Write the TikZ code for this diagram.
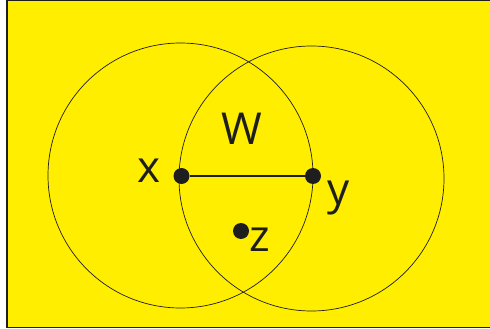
\documentclass[tikz,border=0pt]{standalone}
\usepackage{fontspec}
\setmainfont{Open Sans}
\definecolor{bgyellow}{HTML}{FFEE00}
\definecolor{ink}{HTML}{1E1E1E}
\begin{document}
\begin{tikzpicture}[x=1pt,y=-1pt,
  dotnode/.style={circle,fill=ink,inner sep=0pt,minimum size=16pt},
  ring/.style={draw=ink,line width=0.7pt},
  lbl/.style={font=\fontsize{44}{44}\selectfont,text=ink,inner sep=0pt}]
\useasboundingbox (0,0) rectangle (490,329);
\fill[bgyellow] (6,0) rectangle (492,328);
\draw[ink,line width=1.5pt] (492,0.75) -- (6.75,0.75) -- (6.75,327.5) -- (492,327.5);
\coordinate (c1) at (180.5,175.5);
\coordinate (c2) at (311.5,178.5);
\draw[ring] (c1) circle[radius=132.5];
\draw[ring] (c2) circle[radius=132.5];
\node[dotnode] (x) at (181.5,176) {};
\node[dotnode] (y) at (313,176) {};
\node[dotnode] (z) at (241,231) {};
\draw[ink,line width=1.1pt] (x) -- (y);
\node[lbl] (lx) at (149,171) {x};
\node[lbl] (lw) at (242,129) {W};
\node[lbl] (ly) at (339,198) {y};
\node[lbl] (lz) at (260,240) {z};
\end{tikzpicture}
\end{document}
